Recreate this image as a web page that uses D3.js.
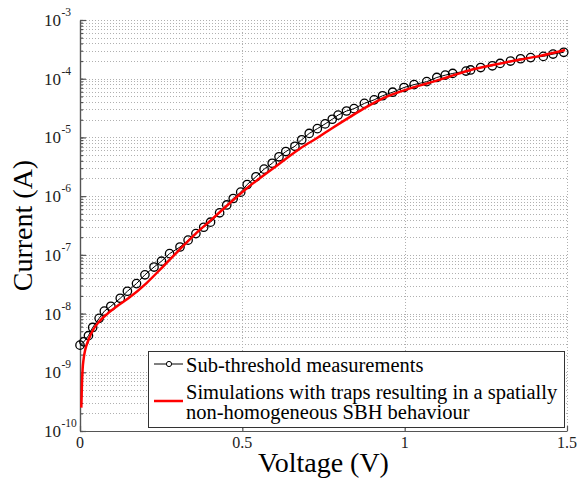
<!DOCTYPE html>
<html>
<head>
<meta charset="utf-8">
<script src="https://cdn.jsdelivr.net/npm/d3@7"></script>
<style>
  body { margin: 0; background: #fff; }
  svg { display: block; }
  text { font-family: "Liberation Serif", "Times New Roman", serif; }
</style>
</head>
<body>
<svg id="chart" width="584" height="480"></svg>
<script>
// measured sub-threshold current (V, A)
var measVoltage = [0.000, 0.012, 0.026, 0.039, 0.059, 0.075, 0.095, 0.124, 0.146, 0.174,
  0.200, 0.228, 0.251, 0.276, 0.308, 0.333, 0.357, 0.381, 0.402, 0.430,
  0.452, 0.472, 0.495, 0.515, 0.542, 0.567, 0.592, 0.613, 0.634, 0.662,
  0.683, 0.706, 0.731, 0.755, 0.777, 0.795, 0.821, 0.844, 0.876, 0.906,
  0.932, 0.963, 0.998, 1.029, 1.068, 1.099, 1.125, 1.148, 1.189, 1.203,
  1.234, 1.270, 1.294, 1.326, 1.357, 1.388, 1.427, 1.457, 1.490];
var measCurrent = [2.9e-9, 3.3e-9, 4.2e-9, 5.8e-9, 8.3e-9, 1.1e-8, 1.33e-8, 1.82e-8, 2.4e-8, 3.24e-8,
  4.57e-8, 6.2e-8, 7.8e-8, 1.05e-7, 1.36e-7, 1.78e-7, 2.3e-7, 2.95e-7, 3.6e-7, 5.2e-7,
  7.08e-7, 9.12e-7, 1.17e-6, 1.58e-6, 2.14e-6, 2.88e-6, 3.63e-6, 4.68e-6, 5.75e-6, 7.08e-6,
  9.12e-6, 1.17e-5, 1.41e-5, 1.70e-5, 2.04e-5, 2.40e-5, 2.82e-5, 3.09e-5, 3.80e-5, 4.37e-5,
  5.13e-5, 5.89e-5, 7.08e-5, 7.94e-5, 8.91e-5, 1.05e-4, 1.15e-4, 1.23e-4, 1.35e-4, 1.41e-4,
  1.55e-4, 1.66e-4, 1.82e-4, 2.00e-4, 2.19e-4, 2.29e-4, 2.40e-4, 2.63e-4, 2.82e-4];

// simulation with traps (V, A)
var simVoltage = [0.004, 0.006, 0.008, 0.011, 0.016, 0.026, 0.040, 0.062, 0.085, 0.113,
  0.149, 0.205, 0.252, 0.303, 0.354, 0.405, 0.431, 0.513, 0.616, 0.680,
  0.730, 0.780, 0.832, 0.883, 0.934, 0.986, 1.037, 1.088, 1.134,
  1.211, 1.314, 1.417, 1.494];
var simCurrent = [2.5e-10, 6.3e-10, 1.12e-9, 1.66e-9, 2.4e-9, 3.55e-9, 5.25e-9, 7.6e-9, 1.0e-8, 1.32e-8,
  1.82e-8, 3.31e-8, 6.03e-8, 1.17e-7, 2.24e-7, 3.98e-7, 5.37e-7, 1.35e-6, 3.63e-6, 6.6e-6,
  9.8e-6, 1.48e-5, 2.24e-5, 3.31e-5, 4.68e-5, 6.03e-5, 7.41e-5, 8.91e-5, 1.07e-4,
  1.45e-4, 1.91e-4, 2.45e-4, 3.09e-4];

var xTicks = [0, 0.5, 1, 1.5];
var xTickLabels = ["0", "0.5", "1", "1.5"];
var yDecades = [-10, -9, -8, -7, -6, -5, -4, -3];

var legendLabels = ["Sub-threshold measurements",
  "Simulations with traps resulting in a spatially",
  "non-homogeneous SBH behaviour"];

var margin = {top: 20, right: 17, bottom: 49, left: 80};
var width = 584, height = 480;

var svg = d3.select("#chart");

var x = d3.scaleLinear().domain([0, 1.5]).range([margin.left, width - margin.right]);
var y = d3.scaleLog().domain([1e-10, 1e-3]).range([height - margin.bottom, margin.top]);

var yMinor = y.ticks();   // 1..9 per decade

// dotted grid
var grid = svg.append("g").attr("class", "grid")
  .attr("stroke", "#b0b0b0").attr("stroke-width", 1).attr("stroke-dasharray", "1,2");

grid.selectAll("line.h")
  .data(yMinor)
  .enter().append("line")
  .attr("class", "h")
  .attr("x1", x(0)).attr("x2", x(1.5))
  .attr("y1", function(d){ return Math.round(y(d)) + 0.5; })
  .attr("y2", function(d){ return Math.round(y(d)) + 0.5; });

grid.selectAll("line.v")
  .data(xTicks.slice(1))
  .enter().append("line")
  .attr("class", "v")
  .attr("y1", y(1e-3)).attr("y2", y(1e-10))
  .attr("x1", function(d){ return Math.round(x(d)) + 0.5; })
  .attr("x2", function(d){ return Math.round(x(d)) + 0.5; });

// axes (ticks pointing inward)
var axisColor = "#555";

var yMinorAxis = svg.append("g")
  .attr("transform", `translate(${x(0)},0)`)
  .call(d3.axisRight(y).tickValues(yMinor).tickSize(3).tickSizeOuter(0).tickFormat(""));

var yMajorAxis = svg.append("g")
  .attr("transform", `translate(${x(0)},0)`)
  .call(d3.axisRight(y).tickValues(yDecades.map(function(e){ return Math.pow(10, e); }))
    .tickSize(6).tickSizeOuter(0).tickFormat(""));

var xAxis = svg.append("g")
  .attr("transform", `translate(0,${y(1e-10)})`)
  .call(d3.axisTop(x).tickValues(xTicks).tickSize(5).tickSizeOuter(0).tickFormat(""));

[yMinorAxis, yMajorAxis, xAxis].forEach(function(a){
  a.selectAll("path, line").attr("stroke", axisColor).attr("stroke-width", 1.2);
});

// y tick labels 10^n
var yLab = svg.append("g").attr("fill", "#222");
yDecades.forEach(function(e){
  var yy = y(Math.pow(10, e));
  var base = yLab.append("text")
    .attr("x", 44).attr("y", yy + 6)
    .style("font-size", "17px")
    .text("10");
  var w = base.node().getComputedTextLength();
  yLab.append("text")
    .attr("x", 44 + w + 0.5).attr("y", yy - 4)
    .style("font-size", "11.5px")
    .text("-" + Math.abs(e));
});

// x tick labels
svg.append("g").selectAll("text")
  .data(xTicks)
  .enter().append("text")
  .attr("x", function(d){ return x(d); })
  .attr("y", 448)
  .attr("text-anchor", "middle")
  .attr("fill", "#222")
  .style("font-size", "16px")
  .text(function(d, i){ return xTickLabels[i]; });

// axis titles
svg.append("text")
  .attr("x", (x(0) + x(1.5)) / 2)
  .attr("y", 472)
  .attr("text-anchor", "middle")
  .style("font-size", "28px")
  .text("Voltage (V)");

svg.append("text")
  .attr("transform", `translate(32,${(y(1e-3) + y(1e-10)) / 2}) rotate(-90)`)
  .attr("text-anchor", "middle")
  .style("font-size", "28px")
  .text("Current (A)");

// measurements: line + open circles
var meas = measVoltage.map(function(v, i){ return [v, measCurrent[i]]; });
var sim = simVoltage.map(function(v, i){ return [v, simCurrent[i]]; });

var line = d3.line()
  .x(function(d){ return x(d[0]); })
  .y(function(d){ return y(d[1]); });

svg.append("path")
  .datum(meas)
  .attr("d", line)
  .attr("fill", "none")
  .attr("stroke", "#000")
  .attr("stroke-width", 1);

svg.append("g").selectAll("circle")
  .data(meas)
  .enter().append("circle")
  .attr("cx", function(d){ return x(d[0]); })
  .attr("cy", function(d){ return y(d[1]); })
  .attr("r", 4.2)
  .attr("fill", "none")
  .attr("stroke", "#000")
  .attr("stroke-width", 1.3);

// simulation curve
svg.append("path")
  .datum(sim)
  .attr("d", line.curve(d3.curveMonotoneX))
  .attr("fill", "none")
  .attr("stroke", "#ff0000")
  .attr("stroke-width", 2.5)
  .attr("stroke-linejoin", "round");

// legend
var legend = svg.append("g");
legend.append("rect")
  .attr("x", 148.5).attr("y", 351.5)
  .attr("width", 416).attr("height", 76)
  .attr("fill", "#fff")
  .attr("stroke", "#333")
  .attr("stroke-width", 1);

legend.append("line")
  .attr("x1", 154).attr("x2", 183).attr("y1", 364).attr("y2", 364)
  .attr("stroke", "#000").attr("stroke-width", 1);
legend.append("circle")
  .attr("cx", 169).attr("cy", 364).attr("r", 2.6)
  .attr("fill", "#fff").attr("stroke", "#000").attr("stroke-width", 1);
legend.append("line")
  .attr("x1", 154).attr("x2", 183).attr("y1", 401).attr("y2", 401)
  .attr("stroke", "#ff0000").attr("stroke-width", 2.5);

var legendY = [371.5, 398.5, 418.5];
legend.selectAll("text")
  .data(legendLabels)
  .enter().append("text")
  .attr("x", 186)
  .attr("y", function(d, i){ return legendY[i]; })
  .style("font-size", "20.5px")
  .text(function(d){ return d; });
</script>
</body>
</html>
